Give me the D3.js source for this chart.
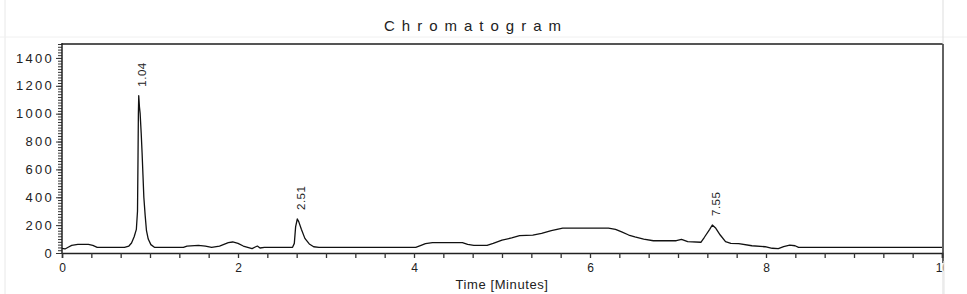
<!DOCTYPE html>
<html lang="en">
<head>
    <meta charset="UTF-8">
    <title>Chromatogram</title>
    <script src="https://d3js.org/d3.v7.min.js"></script>
    <style>
        body { margin: 0; background: #fff; }
        text { font-family: "Liberation Sans", Arial, sans-serif; fill: #222; }
    </style>
</head>
<body>

<div id="chart-container"></div>

<script>
    // retention time (minutes) and detector signal
    const times = [
        0.00, 0.034, 0.07, 0.11, 0.18, 0.30, 0.35, 0.40, 0.71,
        0.76, 0.79, 0.82, 0.845, 0.858, 0.864, 0.868, 0.872, 0.880, 0.888, 0.900,
        0.910, 0.920, 0.930, 0.945, 0.96, 0.98, 1.01, 1.05,
        1.38, 1.42, 1.55, 1.63, 1.70, 1.79, 1.89, 1.94, 2.00, 2.06, 2.11, 2.16,
        2.19, 2.22, 2.25, 2.30, 2.62, 2.64, 2.655, 2.674, 2.69, 2.72, 2.76, 2.81,
        2.86, 2.92, 4.02, 4.08, 4.13, 4.21, 4.55, 4.61, 4.68, 4.83, 4.90, 5.00,
        5.11, 5.20, 5.35, 5.45, 5.56, 5.69, 6.21, 6.29, 6.36, 6.44, 6.51, 6.61,
        6.72, 6.98, 7.04, 7.11, 7.26, 7.30, 7.36, 7.39, 7.43, 7.48, 7.54, 7.60,
        7.69, 7.84, 7.99, 8.07, 8.14, 8.20, 8.27, 8.33, 8.37, 10.0
    ];
    const signal = [
        34, 29, 41, 55, 62, 62, 55, 41, 41,
        50, 72, 117, 170, 300, 700, 1000, 1129, 1050, 1000, 860,
        720, 560, 400, 270, 160, 100, 60, 41,
        41, 50, 55, 50, 41, 50, 74, 79, 69, 50, 41, 31,
        41, 50, 36, 41, 41, 69, 189, 244, 225, 170, 105, 65,
        45, 41, 41, 55, 67, 74, 74, 62, 55, 55, 69, 93,
        108, 124, 129, 141, 160, 179, 179, 170, 151, 129, 116, 100,
        88, 88, 98, 81, 77, 113, 170, 201, 177, 129, 81, 69,
        67, 52, 45, 34, 31, 45, 57, 52, 41, 41
    ];

    // labelled peaks
    const peakLabels = ["1.04", "2.51", "7.55"];
    const peakTimes = [0.872, 2.674, 7.39];
    const peakHeights = [1129, 244, 201];

    // axis ticks
    const yMajorTicks = [0, 200, 400, 600, 800, 1000, 1200, 1400];
    const yMinorTicks = d3.range(0, 1501, 20);
    const xTicks = d3.range(0, 31).map(i => i / 3);
    const xLabelled = [0, 2, 4, 6, 8, 10];

    const width = 967;
    const height = 294;
    const margin = { top: 44, right: 15, bottom: 41, left: 62 };

    const svg = d3.select("#chart-container")
        .append("svg")
        .attr("width", width)
        .attr("height", height);

    const x = d3.scaleLinear()
        .domain([0, 10])
        .range([margin.left, width - margin.right - 10]);

    const y = d3.scaleLinear()
        .domain([0, 1500])
        .range([height - margin.bottom, margin.top]);

    // faint scan border
    svg.append("line")
        .attr("x1", 5).attr("x2", 5).attr("y1", 0).attr("y2", height)
        .attr("stroke", "#e8e8e8");
    svg.append("line")
        .attr("x1", 0).attr("x2", width).attr("y1", 37).attr("y2", 37)
        .attr("stroke", "#f0f0f0");

    // title
    svg.append("text")
        .attr("x", 476)
        .attr("y", 31)
        .attr("text-anchor", "middle")
        .style("font-size", "15px")
        .style("letter-spacing", "7px")
        .text("Chromatogram");

    // frame top and right
    svg.append("line")
        .attr("x1", x(0)).attr("x2", x(10) + 1)
        .attr("y1", y(1500)).attr("y2", y(1500))
        .attr("stroke", "#555").attr("stroke-width", 2);
    svg.append("line")
        .attr("x1", x(10) + 1).attr("x2", x(10) + 1)
        .attr("y1", 0).attr("y2", height)
        .attr("stroke", "#ddd");
    svg.append("line")
        .attr("x1", x(10) + 1).attr("x2", x(10) + 1)
        .attr("y1", y(1500)).attr("y2", y(0) + 10)
        .attr("stroke", "#333").attr("stroke-width", 1.5);

    // y axis: minor ticks then labelled majors
    svg.append("g")
        .attr("transform", `translate(${x(0)},0)`)
        .call(d3.axisLeft(y).tickValues(yMinorTicks).tickSize(4).tickFormat(""))
        .call(g => g.select(".domain").remove())
        .selectAll("line").attr("stroke", "#333");

    const yAxis = svg.append("g")
        .attr("transform", `translate(${x(0)},0)`)
        .call(d3.axisLeft(y).tickValues(yMajorTicks).tickSize(6).tickPadding(2).tickFormat(d3.format("d")))
        .call(g => g.select(".domain").remove());
    yAxis.selectAll("line").attr("stroke", "#333");
    yAxis.selectAll("text")
        .style("font-size", "13px")
        .style("letter-spacing", "2.3px")
        .style("font-family", "'Liberation Sans', Arial, sans-serif")
        .attr("fill", "#222");

    svg.append("line")
        .attr("x1", x(0)).attr("x2", x(0))
        .attr("y1", y(1500) - 1).attr("y2", y(0))
        .attr("stroke", "#222").attr("stroke-width", 1.5);

    // x axis
    const xAxis = svg.append("g")
        .attr("transform", `translate(0,${y(0)})`)
        .call(d3.axisBottom(x)
            .tickValues(xTicks)
            .tickSize(5)
            .tickPadding(5)
            .tickFormat(d => xLabelled.includes(d) ? d : ""));
    xAxis.select(".domain").attr("stroke", "#222").attr("stroke-width", 1.5);
    xAxis.selectAll("line").attr("stroke", "#333").attr("stroke-width", 1.3);
    xAxis.selectAll("text")
        .style("font-size", "12px")
        .style("font-family", "'Liberation Sans', Arial, sans-serif")
        .attr("fill", "#222");

    // the scan cuts the "10" label off at the frame
    svg.append("rect")
        .attr("x", x(10) + 1.8).attr("y", y(0) + 8)
        .attr("width", 20).attr("height", 40)
        .attr("fill", "#fff");
    svg.append("line")
        .attr("x1", x(10) + 2).attr("x2", x(10) + 2)
        .attr("y1", y(0) + 8).attr("y2", height)
        .attr("stroke", "#e4e4e4");

    svg.append("text")
        .attr("x", (x(0) + x(10)) / 2)
        .attr("y", 289)
        .attr("text-anchor", "middle")
        .style("font-size", "13px")
        .style("letter-spacing", "0.6px")
        .text("Time [Minutes]");

    // trace
    const line = d3.line()
        .x((d, i) => x(times[i]))
        .y(d => y(d));

    svg.append("path")
        .datum(signal)
        .attr("fill", "none")
        .attr("stroke", "#111")
        .attr("stroke-width", 1.3)
        .attr("stroke-linejoin", "round")
        .attr("d", line);

    // peak labels
    svg.selectAll(".peak-label")
        .data(peakLabels)
        .enter()
        .append("text")
        .attr("class", "peak-label")
        .attr("transform", (d, i) => `translate(${x(peakTimes[i]) + 3.5},${y(peakHeights[i]) - 9}) rotate(-90)`)
        .attr("dy", "0.35em")
        .style("font-size", "11.5px")
        .style("letter-spacing", "0.5px")
        .text(d => d);
</script>
</body>
</html>
